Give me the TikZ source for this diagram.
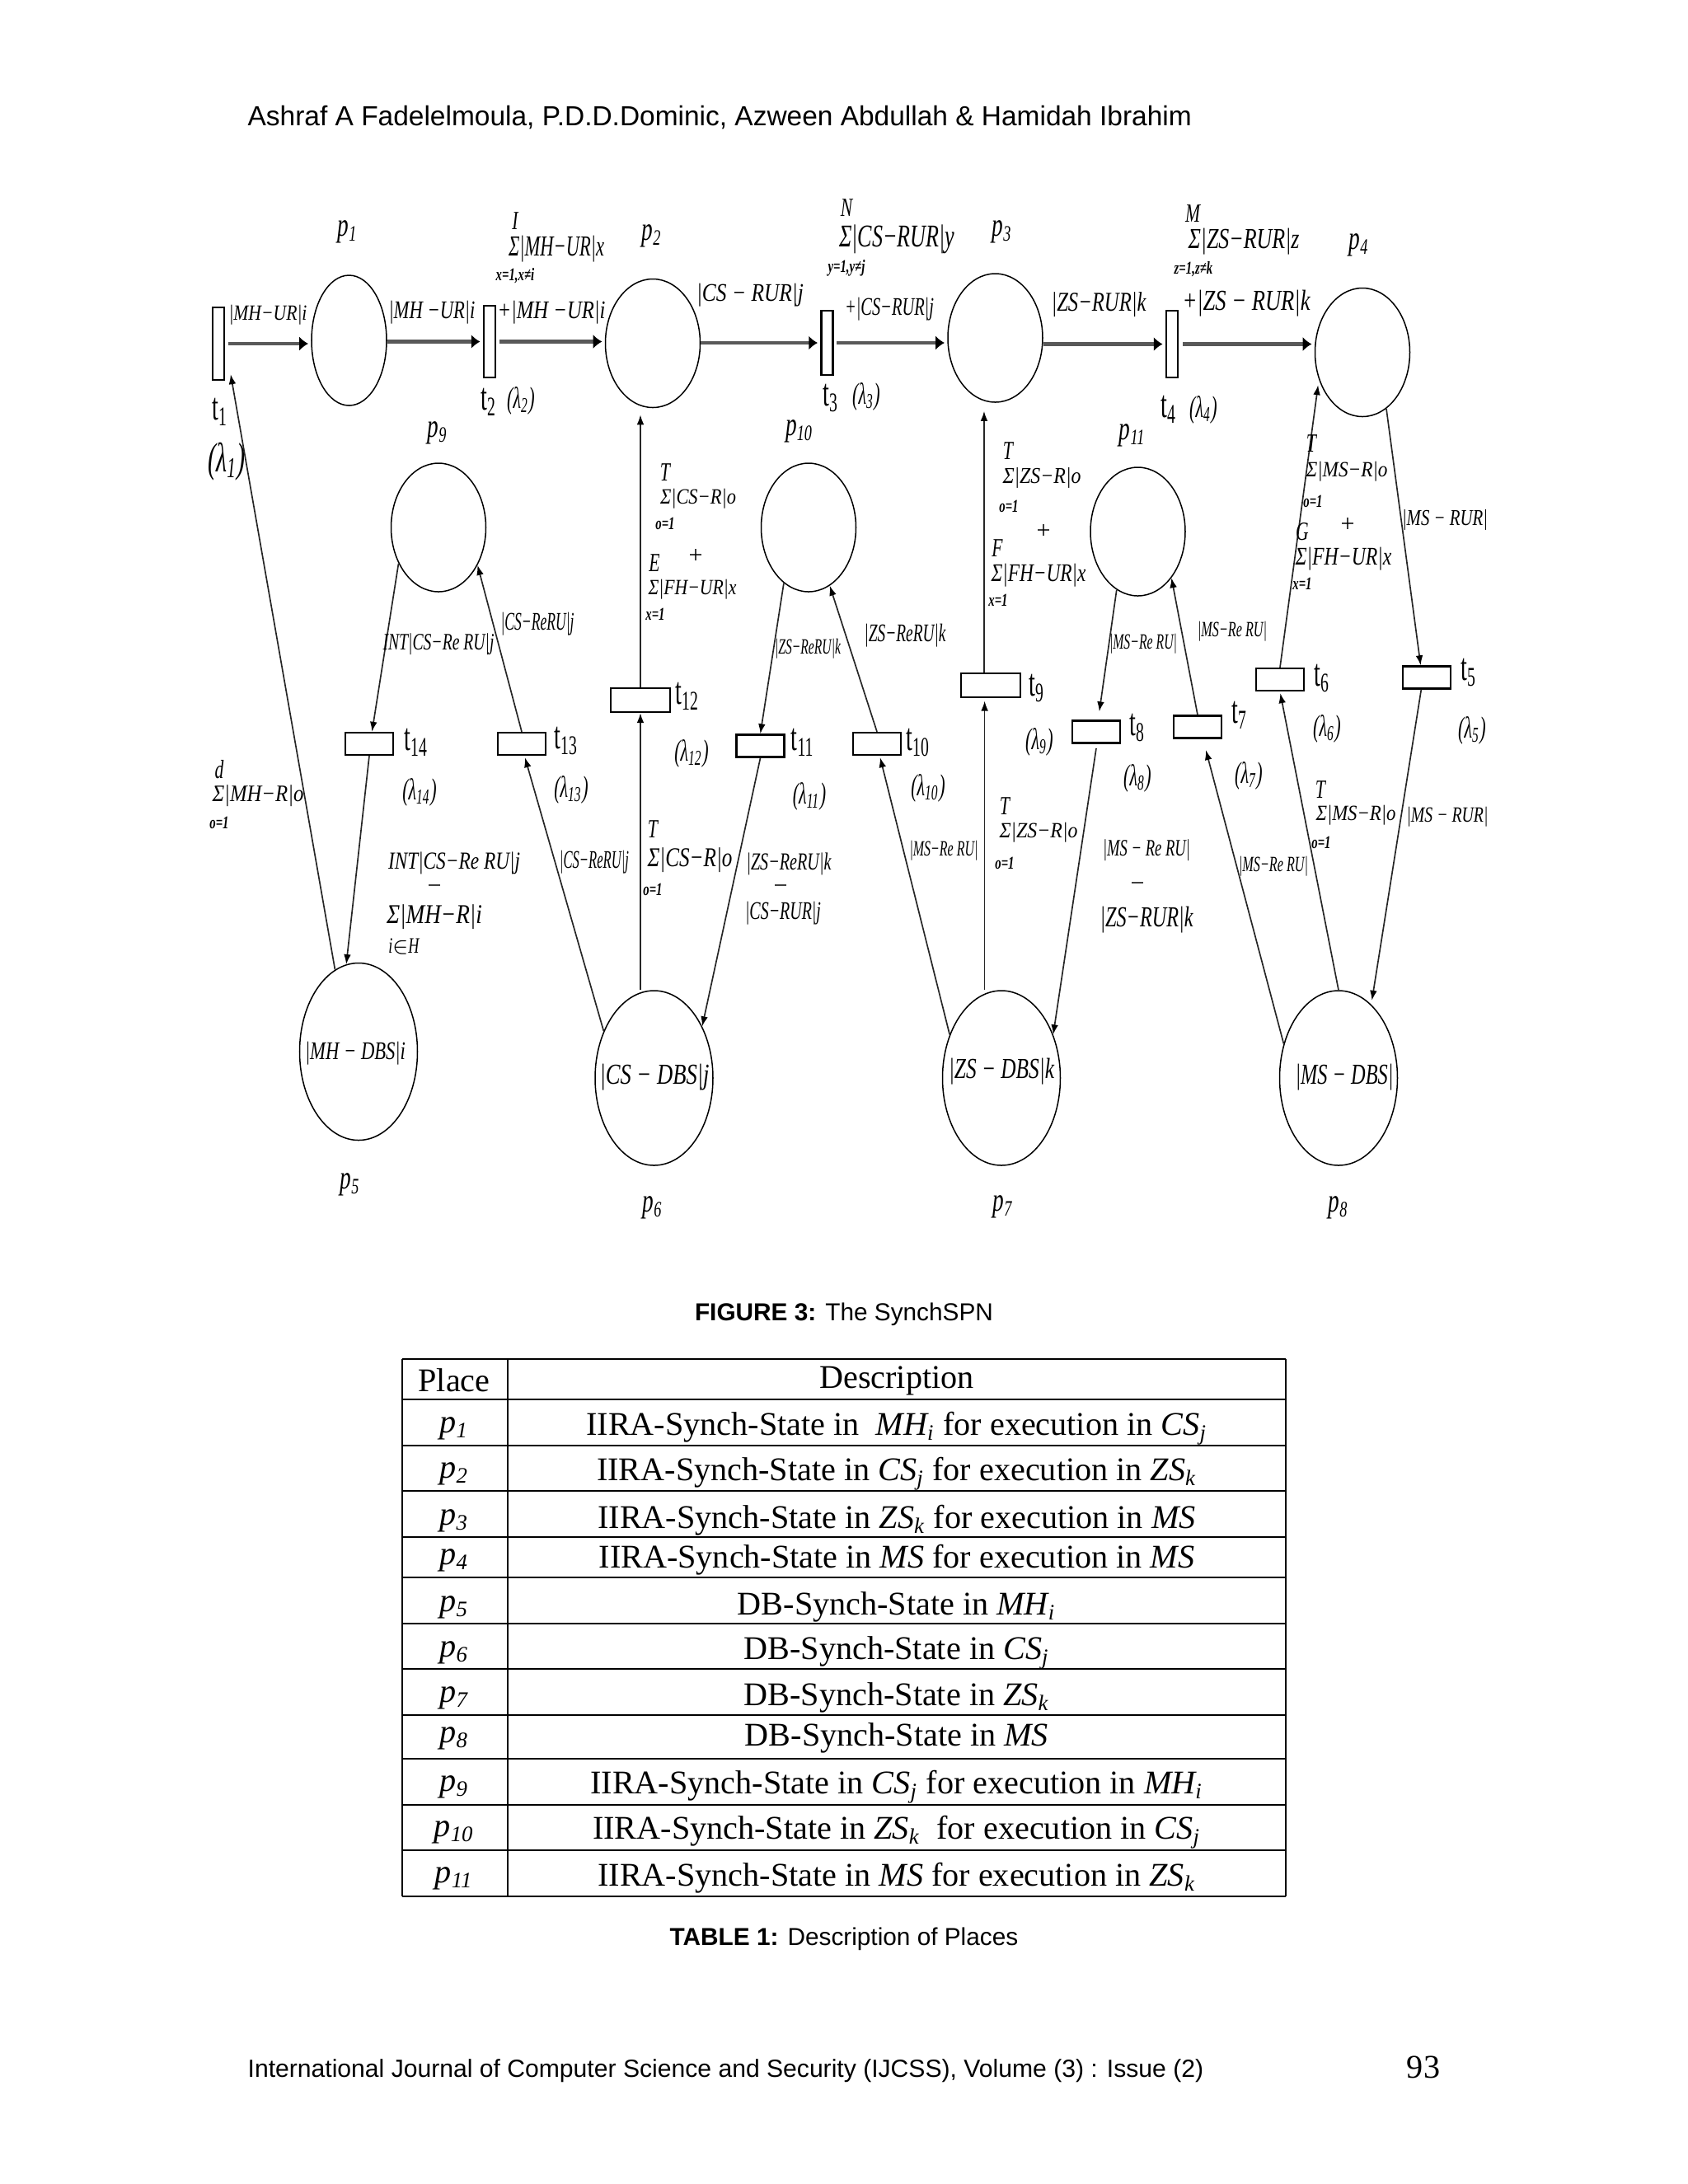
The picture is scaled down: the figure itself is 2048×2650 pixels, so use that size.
\documentclass[tikz,border=0pt]{standalone}
\usepackage{graphicx}
\usepackage{fontspec}
\setmainfont{Liberation Serif}
\setsansfont{Liberation Sans}
\newfontfamily\netfont[FakeStretch=0.68]{Liberation Serif}
\newfontfamily\trfont[FakeStretch=0.6]{Liberation Serif}
\usetikzlibrary{shapes,arrows.meta,positioning}
\newlength\pxu
\setlength\pxu{0.2988pt}
\newcommand{\wlab}[3]{\resizebox*{#1\pxu}{#2\pxu}{#3}}

\begin{document}
\begin{tikzpicture}[x=0.2988pt,y=-0.2988pt,
			place/.style={ellipse, draw, line width=0.45pt, inner sep=0pt, minimum width=115*0.2988pt, minimum height=156*0.2988pt},
			dbplace/.style={ellipse, draw, line width=0.45pt, inner sep=0pt, minimum width=143*0.2988pt, minimum height=212*0.2988pt},
			trv/.style={rectangle, draw, line width=0.7pt, inner sep=0pt, minimum width=14*0.2988pt, minimum height=#1*0.2988pt},
			trh/.style={rectangle, draw, line width=0.7pt, inner sep=0pt, minimum width=58*0.2988pt, minimum height=27*0.2988pt},
			trb/.style={rectangle, draw, line width=0.7pt, inner sep=0pt, minimum width=72*0.2988pt, minimum height=29*0.2988pt},
			lab/.style={inner sep=0pt, font=\itshape},
			labs/.style={inner sep=0pt, font=\netfont\fontsize{6.5}{7}\selectfont\itshape\bfseries},
			labu/.style={inner sep=0pt, font=\netfont\fontsize{9.5}{10}\selectfont\itshape},
			plab/.style={inner sep=0pt, font=\netfont\fontsize{12}{12}\selectfont\itshape},
			tlab/.style={inner sep=0pt, font=\trfont\fontsize{14}{14}\selectfont},
			lam/.style={inner sep=0pt, font=\trfont\fontsize{11}{11}\selectfont\itshape},
			thick arc/.style={draw=black!65, line width=1.3pt, shorten >=1pt, -{Latex[length=3.2pt,width=5.2pt,color=black]}},
			arc/.style={draw=black!85, line width=0.5pt, -{Latex[length=3.6pt,width=2.6pt,color=black]}},
			head/.style={inner sep=0pt, font=\sffamily\fontsize{10}{12}\selectfont},
			capt/.style={inner sep=0pt, font=\sffamily\fontsize{8.9}{11}\selectfont},
			cell/.style={inner sep=0pt, font=\fontsize{12}{14}\selectfont}
		]
		\useasboundingbox (0,0) rectangle (2048,2650);

		% Header
		\node[head, anchor=west] (header) at (300,142) {Ashraf A Fadelelmoula, P.D.D.Dominic, Azween Abdullah \& Hamidah Ibrahim};

		% Upper places
		\node[place, minimum width=91*0.2988pt, minimum height=158*0.2988pt] (p1) at (423.5,413) {};
		\node[place] (p2) at (792,416.5) {};
		\node[place] (p3) at (1207.5,410) {};
		\node[place] (p4) at (1653,427.5) {};
		\node[place] (p9) at (532,640) {};
		\node[place] (p10) at (981,640) {};
		\node[place] (p11) at (1380.5,645) {};

		% Lower places
		\node[dbplace, minimum height=215*0.2988pt] (p5) at (435,1276) {};
		\node[dbplace] (p6) at (793.5,1308) {};
		\node[dbplace] (p7) at (1215,1308) {};
		\node[dbplace] (p8) at (1624,1308) {};

		% Transitions
		\node[trv=88] (t1) at (265,417) {};
		\node[trv=87] (t2) at (594,414.5) {};
		\node[trv=78] (t3) at (1003.5,416) {};
		\node[trv=81] (t4) at (1422,417.5) {};
		\node[trh] (t5) at (1731,822) {};
		\node[trh] (t6) at (1553,824.5) {};
		\node[trh] (t7) at (1453,882) {};
		\node[trh] (t8) at (1330,888) {};
		\node[trb] (t9) at (1202,831.5) {};
		\node[trh] (t10) at (1064,902.5) {};
		\node[trh] (t11) at (922.5,905) {};
		\node[trb] (t12) at (777,849.5) {};
		\node[trh] (t13) at (633,902.5) {};
		\node[trh] (t14) at (448,902.5) {};

		% Bold arcs along the top
		\draw[thick arc] ([xshift=1pt]t1.east) -- (t1.east -| p1.west);
		\draw[thick arc] (t2.west -| p1.east) -- (t2.west);
		\draw[thick arc] ([xshift=1pt]t2.east) -- (t2.east -| p2.west);
		\draw[thick arc] (t3.west -| p2.east) -- (t3.west);
		\draw[thick arc] ([xshift=1pt]t3.east) -- (t3.east -| p3.west);
		\draw[thick arc] (t4.west -| p3.east) -- (t4.west);
		\draw[thick arc] ([xshift=1.5pt]t4.east) -- (t4.east -| p4.west);

		% Thin arcs
		\draw[arc] (p5.106) -- ([shift={(2pt,2.4pt)}]t1.south east);
		\draw[arc] (p9.222) -- ([xshift=1pt]t14.north);
		\draw[arc] (t14.south) -- (p5.98);
		\draw[arc] (t13.north) -- (p9.-44);
		\draw[arc, shorten >=0.6pt] (p6.137) -- ([xshift=1pt]t13.south);
		\draw[arc] (t12.south |- p6.north) -- (t12.south);
		\draw[arc, shorten >=2.4pt] (t12.north) -- (t12.north |- p2.south);
		\draw[arc] (p10.246) -- (t11.north);
		\draw[arc] (t11.south) -- (p6.47);
		\draw[arc] (t10.north) -- (p10.-70);
		\draw[arc, shorten >=0.6pt] (p7.140) -- ([xshift=1pt]t10.south);
		\draw[arc, shorten >=1pt] ([xshift=-2.2pt]t9.south |- p7.north) -- ([xshift=-2.2pt]t9.south);
		\draw[arc, shorten >=3pt] ([xshift=-2.4pt]t9.north) -- ([xshift=-2.4pt]t9.north |- p3.south);
		\draw[arc, shorten >=3pt] (p11.250) -- ([xshift=0.7pt]t8.north);
		\draw[arc] (t8.south) ++(0,-1.6pt) -- (p7.40);
		\draw[arc] (t7.north) -- (p11.-54);
		\draw[arc] (p8.148) -- ([shift={(3pt,-4pt)}]t7.south);
		\draw[arc, shorten >=2pt] (t6.north) -- (p4.212);
		\draw[arc, shorten >=0.6pt] (p8.north) -- (t6.south);
		\draw[arc] (p4.-67) -- ([xshift=-2.2pt]t5.north);
		\draw[arc, shorten >=1.5pt] ([xshift=-2pt]t5.south) -- (p8.66);

		% Names of the places
		\foreach \n/\x/\y/\i in {a/422/281/1, b/791/286/2, c/1216/281/3, d/1649/297/4, e/425/1437/5, f/792/1465/6, g/1217/1464/7, h/1624/1465/8, k/531/525/9, l/970/523/10, m/1374/528/11}
			\node[plab] (name\n) at (\x,\y) {p\textsubscript{\i}};

		% Names of the transitions
		\foreach \n/\x/\y in {1/267/500, 2/593/488, 3/1008/483, 4/1418/497, 5/1782/816, 6/1604/823, 7/1504/868, 8/1380/883, 9/1258/835, 10/1114/901, 11/974/901, 12/834/845, 13/687/899, 14/505/901}
			\node[tlab] (tn\n) at (\x,\y) {t\textsubscript{\n}};

		% Rates
		\node[lam, font=\trfont\fontsize{15}{15}\selectfont\itshape] (rate1) at (275,560) {(λ\textsubscript{1})};
		\foreach \n/\x/\y in {2/632/486, 3/1051/481, 4/1460/497, 5/1786/886, 6/1610/884, 7/1515/941, 8/1380/944, 9/1261/900, 10/1126/956, 11/982/966, 12/839/914, 13/693/958, 14/509/961}
			\node[lam] (rate\n) at (\x,\y) {(λ\textsubscript{\n})};

		% Arc weights: x/y/width/height/text
		\foreach[count=\i] \x/\y/\w/\h/\tx in {
			325/382/95/24/{|MH−UR|i}, 524/379/105/28/{|MH −UR|i}, 669/379/131/28/{+|MH −UR|i},
			910/358/130/28/{|CS − RUR|j}, 1079/375/108/28/{+|CS−RUR|j}, 1333/370/115/30/{|ZS−RUR|k},
			1512/368/155/32/{+|ZS − RUR|k}, 675/302/116/32/{Σ|MH−UR|x}, 1088/290/140/35/{Σ|CS−RUR|y},
			1509/293/135/32/{Σ|ZS−RUR|z}, 313/966/111/26/{Σ|MH−R|o}, 527/1113/116/30/{Σ|MH−R|i},
			837/1044/103/30/{Σ|CS−R|o}, 957/1048/103/27/{|ZS−ReRU|k}, 950/1108/92/28/{|CS−RUR|j},
			721/1046/84/28/{|CS−ReRU|j}, 652/757/89/28/{|CS−ReRU|j}, 1098/771/99/28/{|ZS−ReRU|k},
			551/1047/160/27/{INT|CS−Re RU|j}, 532/782/135/26/{INT|CS−Re RU|j}, 1391/1032/106/26/{|MS − Re RU|},
			1391/1116/113/32/{|ZS−RUR|k}, 1753/631/104/25/{|MS − RUR|}, 1756/991/99/24/{|MS − RUR|},
			847/605/92/24/{Σ|CS−R|o}, 840/715/107/24/{Σ|FH−UR|x}, 1264/580/95/25/{Σ|ZS−R|o},
			1260/698/115/28/{Σ|FH−UR|x}, 1634/572/99/24/{Σ|MS−R|o}, 1630/678/117/28/{Σ|FH−UR|x},
			1260/1010/95/24/{Σ|ZS−R|o}, 1645/989/97/24/{Σ|MS−R|o}, 980/787/80/24/{|ZS−ReRU|k},
			1387/781/82/24/{|MS−Re RU|}, 1495/766/84/24/{|MS−Re RU|}, 1145/1032/83/24/{|MS−Re RU|},
			1545/1051/84/24/{|MS−Re RU|},
			431/1278/122/28/{|MH − DBS|i}, 794/1307/133/32/{|CS − DBS|j}, 1215/1300/128/32/{|ZS − DBS|k}, 1631/1307/119/32/{|MS − DBS|}}
			\node[lab] (w\i) at (\x,\y) {\wlab{\w}{\h}{\tx}};

		% Upper bounds of the sums
		\foreach[count=\i] \x/\y/\tx in {
			625/268/I, 1027/252/N, 1447/259/M, 807/573/T, 794/683/E, 1223/547/T, 1210/665/F,
			1591/538/T, 1580/645/G, 266/934/d, 792/1006/T, 1219/978/T, 1602/958/T}
			\node[labu] (u\i) at (\x,\y) {\tx};

		% Lower bounds of the sums
		\foreach[count=\i] \x/\y/\tx in {
			625/335/{x=1,x≠i}, 1027/325/{y=1,y≠j}, 1448/327/{z=1,z≠k}, 807/635/{o=1},
			795/745/{x=1}, 1224/614/{o=1}, 1211/728/{x=1}, 1593/608/{o=1}, 1580/708/{x=1},
			266/998/{o=1}, 792/1079/{o=1}, 1219/1047/{o=1}, 1603/1022/{o=1}}
			\node[labs] (b\i) at (\x,\y) {\tx};
		\node[plab, font=\netfont\fontsize{8}{9}\selectfont\itshape] (ih) at (490,1148) {i$\in$H};

		% Plus and minus signs
		\foreach[count=\i] \x/\y/\tx in {844/675/+, 1266/645/+, 1635/637/+, 527/1079/−, 947/1079/−, 1380/1076/−}
			\node[inner sep=0pt, font=\fontsize{9}{9}\selectfont] (sign\i) at (\x,\y) {\tx};

		% Captions
		\node[capt] (cap1) at (1024,1595) {\textbf{FIGURE 3:} The SynchSPN};
		\node[capt] (cap2) at (1024,2353) {\textbf{TABLE 1:} Description of Places};

		% Table
		\foreach \y in {1649,1698,1754,1809,1865,1914,1970,2025,2081,2134,2190,2245,2301}
			\draw[line width=0.7pt] (488,\y) -- (1560,\y);
		\foreach \x in {488,616,1560}
			\draw[line width=0.7pt] (\x,1649) -- (\x,2301);
		\node[cell] (place) at (551,1675) {Place};
		\node[cell] (descr) at (1088,1675) {Description};
		\foreach \i/\y/\tx in {
			1/1733/{IIRA-Synch-State in~ \textit{MH\textsubscript{i}} for execution in \textit{CS\textsubscript{j}}},
			2/1788/{IIRA-Synch-State in \textit{CS\textsubscript{j}} for execution in \textit{ZS\textsubscript{k}}},
			3/1845/{IIRA-Synch-State in \textit{ZS\textsubscript{k}} for execution in \textit{MS}},
			4/1893/{IIRA-Synch-State in \textit{MS} for execution in \textit{MS}},
			5/1950/{DB-Synch-State in \textit{MH\textsubscript{i}}},
			6/2005/{DB-Synch-State in \textit{CS\textsubscript{j}}},
			7/2060/{DB-Synch-State in \textit{ZS\textsubscript{k}}},
			8/2109/{DB-Synch-State in \textit{MS}},
			9/2168/{IIRA-Synch-State in \textit{CS\textsubscript{j}} for execution in \textit{MH\textsubscript{i}}},
			10/2223/{IIRA-Synch-State in \textit{ZS\textsubscript{k}}~ for execution in \textit{CS\textsubscript{j}}},
			11/2279/{IIRA-Synch-State in \textit{MS} for execution in \textit{ZS\textsubscript{k}}}}{
			\node[cell, font=\fontsize{12}{14}\selectfont\itshape] (pl\i) at (551,\y) {p\textsubscript{\i}};
			\node[cell] (ds\i) at (1088,\y) {\tx};
		}

		% Footer
		\node[capt, font=\sffamily\fontsize{9}{11}\selectfont, anchor=west] (footer) at (300,2513) {International Journal of Computer Science and Security (IJCSS), Volume (3) : Issue (2)};
		\node[cell] (pageno) at (1727,2508) {93};

	\end{tikzpicture}
\end{document}
